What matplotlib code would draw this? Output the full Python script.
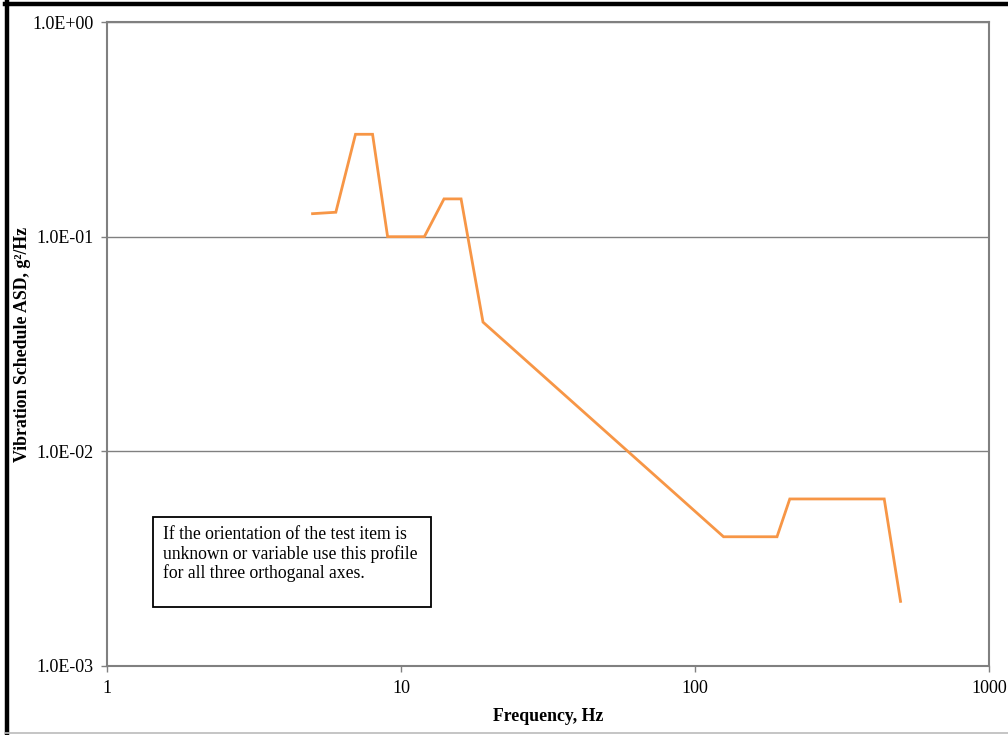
import matplotlib
matplotlib.use('Agg')
import matplotlib.pyplot as plt
import matplotlib.ticker as mticker
from matplotlib.patches import Rectangle
from matplotlib.lines import Line2D

plt.rcParams['font.family'] = ['Liberation Serif', 'DejaVu Serif']

# ── data ──────────────────────────────────────────────
freq = [5, 6, 7, 8, 9, 12, 14, 16, 19, 125, 190, 210, 440, 500]
asd = [0.128, 0.13, 0.3, 0.3, 0.1, 0.1, 0.15, 0.15, 0.04,
       0.004, 0.004, 0.006, 0.006, 0.002]
note = ("If the orientation of the test item is\n"
        "unknown or variable use this profile\n"
        "for all three orthoganal axes.")

# ── plot ──────────────────────────────────────────────
fig = plt.figure(figsize=(10.08, 7.35), dpi=100)
ax = fig.add_axes([0.1062, 0.0939, 0.875, 0.8761])

ax.plot(freq, asd, color='#F79646', lw=2.0, solid_joinstyle='miter')

ax.set_xscale('log')
ax.set_yscale('log')
ax.set_xlim(1, 1000)
ax.set_ylim(1e-3, 1)

ax.xaxis.set_major_locator(mticker.FixedLocator([1, 10, 100, 1000]))
ax.xaxis.set_major_formatter(mticker.FuncFormatter(lambda v, p: f'{v:g}'))
ax.yaxis.set_major_locator(mticker.FixedLocator([1e-3, 1e-2, 1e-1, 1]))
ax.yaxis.set_major_formatter(mticker.FuncFormatter(lambda v, p: f'{v:.1E}'))
ax.xaxis.set_minor_locator(mticker.NullLocator())
ax.yaxis.set_minor_locator(mticker.NullLocator())

ax.grid(axis='y', which='major', color='#808080', lw=1.0)
ax.set_axisbelow(True)
for s in ax.spines.values():
    s.set_color('#808080')
    s.set_linewidth(1.5)
ax.tick_params(axis='both', direction='out', length=4, width=1, color='#808080',
               labelsize=13, pad=6)

ax.set_xlabel('Frequency, Hz', fontsize=12.8, fontweight='bold', labelpad=8)
ax.set_ylabel('Vibration Schedule ASD, g\u00b2/Hz', fontsize=12.8, fontweight='bold')
ax.yaxis.set_label_coords(-0.0964, 0.5)
ax.yaxis.label.set_va('center')

# note box
ax.add_patch(Rectangle((0.0522, 0.0916), 0.3148, 0.1398, transform=ax.transAxes,
                       fill=False, edgecolor='black', lw=1.3, zorder=5))
ax.text(0.0635, 0.2175, note, transform=ax.transAxes, fontsize=12.7,
        va='top', ha='left', linespacing=1.13, zorder=6)

# outer frame
fig.add_artist(Line2D([0.0069, 0.0069], [0, 0.997], transform=fig.transFigure,
                      color='black', lw=3.2))
fig.add_artist(Line2D([0.005, 1.0], [0.9946, 0.9946], transform=fig.transFigure,
                      color='black', lw=3.2))
fig.add_artist(Line2D([0.005, 1.0], [0.0025, 0.0025], transform=fig.transFigure,
                      color='#bbbbbb', lw=1.2))

fig.savefig('out.png', dpi=100, facecolor='white')
